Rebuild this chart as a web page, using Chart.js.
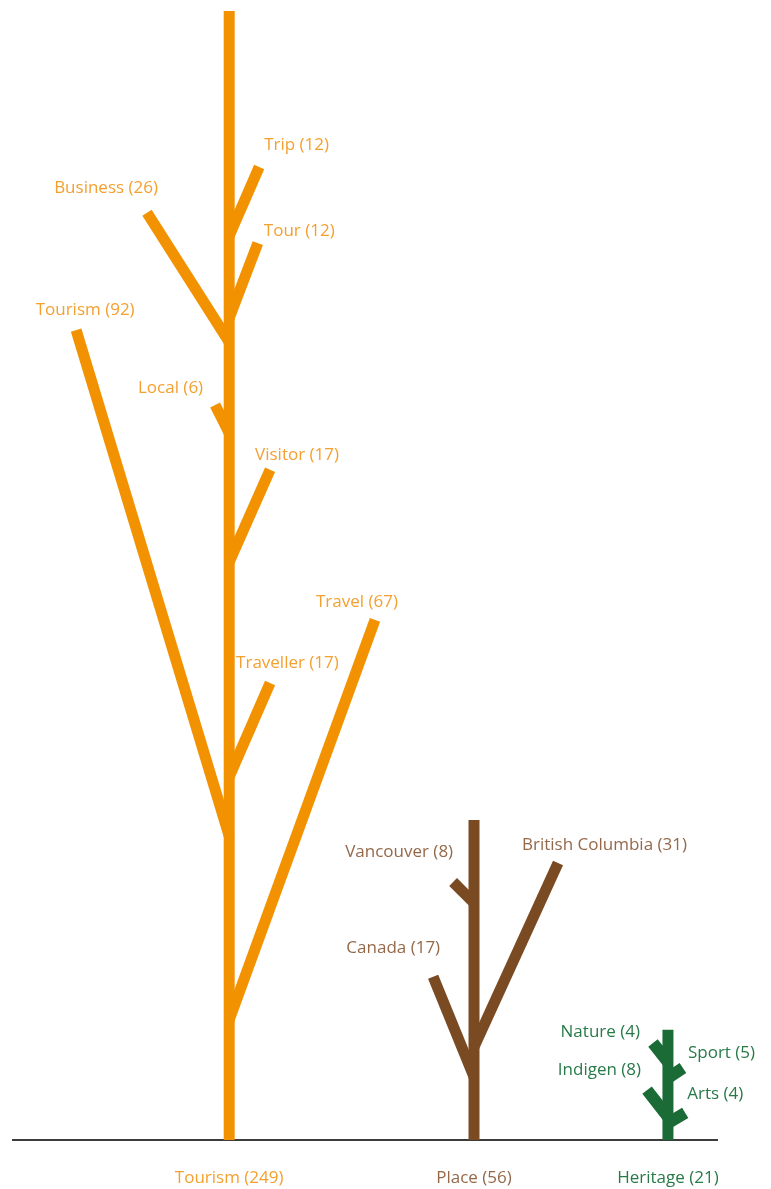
<!DOCTYPE html>
<html>
<head>
<meta charset="utf-8">
<script src="https://cdn.jsdelivr.net/npm/chart.js@4/dist/chart.umd.min.js"></script>
<style>
  html, body { margin: 0; padding: 0; background: #fff; }
  canvas { display: block; }
</style>
</head>
<body>
<canvas id="tree" width="771" height="1189"></canvas>
<script>
// trunks (main categories)
const trunkNames = ['Tourism', 'Place', 'Heritage'];
const trunkCounts = [249, 56, 21];
const trunkX = [47.6, 101.5, 144.2];
const trunkHeight = [249, 70.6, 24.3];

// branches (sub categories), tip in the same units
const branchNames = ['Trip', 'Tour', 'Business', 'Tourism', 'Local', 'Visitor', 'Traveller', 'Travel',
    'Vancouver', 'British Columbia', 'Canada', 'Nature', 'Sport', 'Indigen', 'Arts'];
const branchCounts = [12, 12, 26, 92, 6, 17, 17, 67, 8, 31, 17, 4, 5, 8, 4];
const branchTrunk = [0, 0, 0, 0, 0, 0, 0, 0, 1, 1, 1, 2, 2, 2, 2];
const branchBase = [199.4, 181.3, 176.0, 67.0, 155.9, 127.5, 80.1, 26.5, 52.3, 20.5, 13.9, 17.2, 13.7, 5.1, 3.7];
const branchTipX = [54.2, 53.9, 29.5, 13.9, 44.5, 56.6, 56.6, 79.7, 96.9, 120.0, 92.5, 140.9, 147.5, 139.6, 148.0];
const branchTipY = [214.6, 197.8, 204.5, 178.6, 162.1, 147.8, 100.8, 114.7, 56.9, 61.1, 36.0, 21.4, 15.9, 11.0, 6.0];

const trunkColors = ['#f39200', '#7a4a22', '#1b6b36'];
const labelColors = ['#f4a030', '#95684a', '#287a48'];

// label placement next to each tip: [align, dx px, dy px]
const labelPlace = [
    ['left', 5, -22], ['left', 6, -12], ['right', 11, -25], ['center', 9, -20],
    ['right', -12, -17], ['left', -15, -15], ['left', -34, -20], ['center', -18, -18],
    ['right', 0, -30], ['left', -36, -18], ['right', 7, -29],
    ['right', -13, -11], ['left', 5, -15], ['right', -6, -20], ['left', 2, -19]
];

const FONT = '"Open Sans", "Noto Sans", sans-serif';
const FONT_SIZE = 17;

let datasets = [];
trunkNames.forEach(function(name, i){
    datasets.push({
        label: name,
        data: [{x: trunkX[i], y: 0}, {x: trunkX[i], y: trunkHeight[i]}],
        borderColor: trunkColors[i],
        borderWidth: 11,
        borderCapStyle: 'butt'
    });
});
branchNames.forEach(function(name, i){
    let t = branchTrunk[i];
    datasets.push({
        label: name,
        data: [{x: trunkX[t], y: branchBase[i]}, {x: branchTipX[i], y: branchTipY[i]}],
        borderColor: trunkColors[t],
        borderWidth: t == 2 ? 12 : 11,
        borderCapStyle: 'butt'
    });
});
datasets.forEach(function(d){
    d.showLine = true;
    d.pointRadius = 0;
    d.pointHoverRadius = 0;
    d.clip = false;
});

const branchLabels = {
    id: 'branchLabels',
    afterDatasetsDraw(chart){
        const ctx = chart.ctx;
        const xs = chart.scales.x, ys = chart.scales.y;
        ctx.save();
        ctx.font = FONT_SIZE + 'px ' + FONT;
        ctx.textBaseline = 'middle';
        branchNames.forEach(function(name, i){
            let p = labelPlace[i];
            ctx.fillStyle = labelColors[branchTrunk[i]];
            ctx.textAlign = p[0];
            ctx.fillText(name + ' (' + branchCounts[i] + ')',
                xs.getPixelForValue(branchTipX[i]) + p[1],
                ys.getPixelForValue(branchTipY[i]) + p[2]);
        });
        ctx.restore();
    }
};

new Chart(document.getElementById('tree'), {
    type: 'scatter',
    data: { datasets: datasets },
    options: {
        responsive: false,
        animation: false,
        events: [],
        layout: { padding: { top: 11, left: 13, right: 54, bottom: 0 } },
        plugins: { legend: { display: false }, tooltip: { enabled: false } },
        scales: {
            x: {
                type: 'linear',
                min: 0,
                max: 155,
                grid: { display: false, drawTicks: false },
                border: { display: true, color: '#3c3c3c', width: 2 },
                afterBuildTicks(scale){
                    scale.ticks = trunkX.map(function(v){ return {value: v}; });
                },
                afterFit(scale){ scale.height = 49; },
                ticks: {
                    autoSkip: false,
                    maxRotation: 0,
                    padding: 28,
                    font: { size: FONT_SIZE, family: FONT },
                    color: function(c){ return labelColors[c.index]; },
                    callback: function(v, i){ return trunkNames[i] + ' (' + trunkCounts[i] + ')'; }
                }
            },
            y: {
                display: false,
                min: 0,
                max: 249
            }
        }
    },
    plugins: [branchLabels]
});
</script>
</body>
</html>
